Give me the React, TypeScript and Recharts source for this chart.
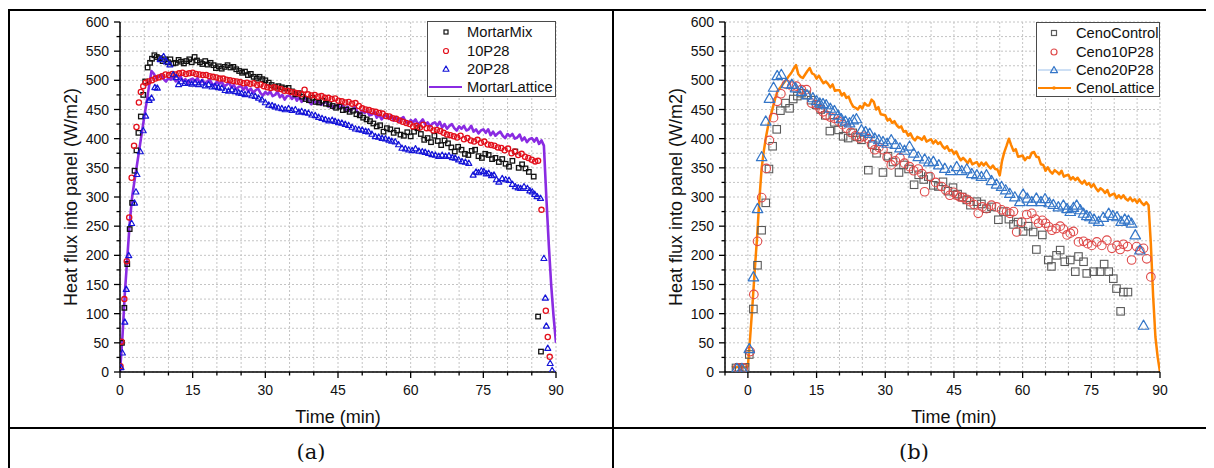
import React from "react";
import {
  ComposedChart,
  Line,
  Scatter,
  XAxis,
  YAxis,
  CartesianGrid,
  Legend,
} from "recharts";

type Pair = [number, number];
type Pt = { t: number; v: number };
type Shape = "square" | "circle" | "triangle";

// ---- axes ----
const Y_TICKS = [0, 25, 50, 75, 100, 125, 150, 175, 200, 225, 250, 275, 300, 325, 350, 375, 400, 425, 450, 475, 500, 525, 550, 575, 600];
const X_TICKS_A = [0, 5, 10, 15, 20, 25, 30, 35, 40, 45, 50, 55, 60, 65, 70, 75, 80, 85, 90];
const X_TICKS_B = [-5, 0, 5, 10, 15, 20, 25, 30, 35, 40, 45, 50, 55, 60, 65, 70, 75, 80, 85, 90];

// ---- panel (a) ----
const MORTAR_MIX: Pair[] = [
  [0.4, 50], [0.9, 110], [1.5, 185], [2.0, 245], [2.5, 290], [3.0, 345], [3.4, 380], [3.8, 410], [4.3, 438], [4.8, 475],
  [5.2, 498], [5.7, 522], [6.2, 530], [6.6, 537], [7.1, 543], [7.6, 540], [8.2, 538], [8.8, 533], [9.3, 536], [9.9, 531],
  [10.4, 536], [11.0, 529], [11.5, 530], [12.1, 535], [12.6, 532], [13.2, 529], [13.7, 533], [14.3, 536], [14.8, 531], [15.4, 540],
  [15.9, 534], [16.5, 531], [17.0, 528], [17.6, 533], [18.1, 527], [18.7, 530], [19.3, 526], [19.8, 521], [20.4, 524], [21.0, 520],
  [21.6, 523], [22.2, 526], [22.8, 522], [23.4, 523], [24.0, 519], [24.6, 516], [25.2, 513], [25.8, 515], [26.4, 509], [27.0, 511],
  [27.6, 506], [28.2, 503], [28.8, 506], [29.4, 502], [30.0, 500], [30.7, 496], [31.3, 492], [32.0, 489], [32.7, 490], [33.4, 488],
  [34.1, 486], [34.8, 487], [35.5, 481], [36.2, 476], [36.9, 478], [37.6, 472], [38.3, 468], [39.0, 466], [39.7, 470], [40.4, 463],
  [41.1, 462], [41.8, 465], [42.5, 460], [43.2, 459], [43.9, 456], [44.6, 453], [45.3, 455], [46.0, 449], [46.7, 450], [47.4, 446],
  [48.1, 448], [48.8, 442], [49.5, 440], [50.2, 436], [50.9, 433], [51.6, 430], [52.3, 426], [53.0, 421], [53.7, 423], [54.4, 412],
  [55.1, 418], [55.8, 416], [56.5, 410], [57.2, 414], [57.9, 407], [58.6, 405], [59.3, 411], [60.0, 404], [60.7, 412], [61.4, 418],
  [62.1, 408], [62.8, 398], [63.5, 401], [64.2, 394], [64.9, 405], [65.6, 396], [66.3, 389], [67.0, 397], [67.7, 392], [68.4, 385],
  [69.1, 378], [69.8, 386], [70.5, 381], [71.2, 374], [71.9, 372], [72.6, 379], [73.3, 381], [74.0, 370], [74.7, 367], [75.4, 374],
  [76.1, 372], [76.8, 365], [77.5, 367], [78.2, 360], [78.9, 365], [79.6, 357], [80.3, 352], [81.0, 362], [81.6, 378], [82.3, 350],
  [83.0, 356], [83.7, 349], [84.4, 343], [85.4, 335], [86.3, 95], [86.9, 35],
];

const P10_28: Pair[] = [
  [0.1, 10], [0.3, 52], [0.9, 125], [1.4, 190], [1.9, 265], [2.4, 333], [2.9, 388], [3.4, 420], [3.9, 462], [4.3, 480],
  [4.8, 490], [5.3, 496], [5.9, 498], [6.6, 500], [7.3, 503], [8.0, 505], [8.7, 507], [9.4, 510], [10.1, 509], [10.8, 511],
  [11.5, 510], [12.2, 512], [12.9, 513], [13.6, 511], [14.3, 512], [15.0, 513], [15.7, 511], [16.4, 510], [17.1, 509], [17.8, 509],
  [18.5, 507], [19.2, 506], [19.9, 505], [20.6, 503], [21.3, 503], [22.0, 501], [22.7, 500], [23.4, 499], [24.1, 498], [24.8, 497],
  [25.5, 495], [26.2, 496], [26.9, 494], [27.6, 495], [28.3, 492], [29.0, 493], [29.7, 490], [30.4, 488], [31.1, 487], [31.8, 488],
  [32.5, 486], [33.2, 485], [33.9, 482], [34.6, 482], [35.3, 480], [36.0, 479], [36.7, 478], [37.4, 476], [38.1, 484], [38.8, 476],
  [39.5, 474], [40.2, 475], [40.9, 472], [41.6, 473], [42.3, 470], [43.0, 470], [43.7, 468], [44.4, 469], [45.1, 465], [45.8, 464],
  [46.5, 462], [47.2, 463], [47.9, 460], [48.6, 461], [49.3, 456], [50.0, 452], [50.7, 450], [51.4, 449], [52.1, 447], [52.8, 446],
  [53.5, 444], [54.2, 443], [54.9, 439], [55.6, 438], [56.3, 435], [57.0, 434], [57.7, 431], [58.4, 429], [59.1, 427], [59.8, 425],
  [60.5, 421], [61.2, 422], [61.9, 419], [62.6, 424], [63.3, 418], [64.0, 418], [64.7, 414], [65.4, 415], [66.1, 413], [66.8, 410],
  [67.5, 407], [68.2, 406], [68.9, 404], [69.6, 402], [70.3, 405], [71.0, 399], [71.7, 401], [72.4, 397], [73.1, 395], [73.8, 398],
  [74.5, 393], [75.2, 395], [75.9, 390], [76.6, 389], [77.3, 388], [78.0, 385], [78.7, 384], [79.4, 380], [80.1, 383], [80.8, 375],
  [81.5, 378], [82.2, 372], [82.9, 374], [83.6, 369], [84.3, 367], [85.0, 364], [85.7, 361], [86.3, 362], [87.0, 278], [87.9, 105],
  [88.3, 60], [88.7, 26],
];

const P20_28: Pair[] = [
  [0.2, 8], [0.5, 33], [1.0, 86], [1.3, 142], [1.8, 200], [2.4, 255], [3.0, 290], [3.3, 309], [3.5, 339], [4.2, 378],
  [4.8, 414], [5.3, 439], [6.0, 466], [6.5, 470], [7.2, 488], [7.7, 487], [8.3, 536], [9.0, 541], [9.6, 532], [10.3, 527],
  [11.0, 510], [11.6, 505], [12.1, 493], [12.7, 498], [13.4, 495], [14.1, 496], [14.8, 494], [15.5, 496], [16.2, 493], [16.9, 496],
  [17.6, 491], [18.3, 493], [19.0, 489], [19.6, 490], [20.3, 488], [21.0, 487], [21.7, 483], [22.4, 482], [23.1, 484], [23.8, 481],
  [24.5, 479], [25.1, 478], [25.8, 476], [26.5, 477], [27.2, 474], [27.9, 473], [28.6, 470], [29.3, 467], [30.0, 462], [30.7, 458],
  [31.4, 457], [32.0, 455], [32.7, 453], [33.4, 452], [34.1, 450], [34.8, 452], [35.5, 449], [36.2, 450], [36.9, 446], [37.5, 447],
  [38.2, 445], [38.9, 444], [39.6, 441], [40.3, 440], [41.0, 437], [41.7, 435], [42.4, 433], [43.1, 431], [43.8, 432], [44.4, 430],
  [45.1, 428], [45.8, 427], [46.5, 425], [47.2, 423], [47.9, 420], [48.6, 417], [49.3, 416], [50.0, 415], [50.7, 413], [51.3, 412],
  [52.0, 408], [52.7, 404], [53.4, 403], [54.1, 401], [54.8, 400], [55.5, 398], [56.1, 396], [56.8, 395], [57.5, 390], [58.2, 384],
  [58.9, 383], [59.6, 381], [60.3, 380], [61.0, 383], [61.7, 379], [62.4, 378], [63.0, 377], [63.7, 375], [64.4, 373], [65.1, 372],
  [65.8, 370], [66.5, 372], [67.2, 370], [67.9, 371], [68.6, 368], [69.2, 367], [69.9, 364], [70.6, 361], [71.3, 360], [72.0, 358],
  [72.9, 338], [73.5, 343], [74.0, 342], [74.6, 345], [75.1, 344], [75.6, 340], [76.1, 341], [76.7, 337], [77.2, 338], [77.7, 330],
  [78.2, 326], [78.9, 332], [79.6, 330], [80.3, 329], [81.0, 322], [81.6, 318], [82.2, 316], [82.7, 315], [83.4, 318], [84.1, 315],
  [84.6, 311], [85.1, 309], [85.6, 305], [86.1, 301], [86.8, 298], [87.5, 195], [87.8, 127], [88.0, 79], [88.3, 41], [88.8, 15],
  [89.2, 3],
];

// MortarLattice, sampled every 0.5 min from t = 0
const MORTAR_LATTICE_START = 0;
const MORTAR_LATTICE: number[] = [
  0, 60, 135, 195, 255, 300, 328, 355, 382, 410, 437, 463, 490, 516,
  511, 503, 507, 510, 502, 498, 504, 501, 506, 498,
  501, 507, 498, 502, 495, 501, 503, 498, 504, 495,
  501, 494, 498, 502, 494, 491, 498, 494, 498, 490,
  492, 497, 488, 492, 484, 489, 490, 484, 490, 480,
  486, 479, 483, 486, 478, 474, 480, 476, 481, 473,
  475, 481, 471, 475, 467, 473, 474, 468, 474, 465,
  471, 463, 467, 470, 463, 459, 465, 461, 465, 458,
  460, 465, 455, 459, 452, 457, 458, 452, 458, 448,
  455, 447, 451, 454, 446, 442, 448, 444, 448, 440,
  441, 446, 436, 441, 433, 438, 440, 434, 440, 431,
  437, 429, 434, 437, 429, 426, 432, 428, 433, 425,
  428, 433, 424, 428, 421, 426, 428, 422, 429, 419,
  425, 417, 422, 425, 418, 414, 421, 417, 422, 414,
  416, 422, 412, 416, 409, 414, 416, 410, 416, 406,
  412, 405, 409, 412, 405, 401, 408, 404, 408, 400,
  402, 407, 397, 402, 394, 399, 401, 395, 401, 391,
  397, 388,
  300, 220, 150, 95, 50,
];

// ---- panel (b) ----
const CENO_CONTROL: Pair[] = [
  [-2.6, 7], [-1.9, 8], [-1.2, 7], [-0.6, 8], [0.3, 30], [1.2, 108], [2.1, 183], [3.0, 243], [3.9, 290], [4.6, 348],
  [5.4, 387], [6.3, 416], [7.1, 448], [8.2, 461], [9.1, 452], [9.9, 468], [10.8, 473], [11.7, 478], [12.8, 475], [13.8, 466],
  [14.9, 458], [15.9, 450], [16.9, 440], [17.9, 413], [18.9, 428], [19.8, 415], [20.8, 404], [21.9, 401], [22.9, 410], [23.8, 403],
  [24.8, 398], [26.3, 346], [27.2, 390], [28.1, 375], [29.5, 342], [30.6, 370], [31.7, 360], [33.0, 342], [34.0, 355], [35.1, 348],
  [36.3, 321], [37.3, 338], [38.4, 330], [39.4, 335], [40.5, 320], [41.6, 318], [42.6, 326], [43.7, 310], [44.8, 316], [45.8, 305],
  [46.8, 300], [47.8, 295], [48.6, 286], [50.0, 292], [51.0, 288], [52.1, 280], [53.2, 283], [54.7, 261], [55.8, 275], [57.0, 262],
  [58.0, 253], [59.0, 257], [60.1, 241], [61.2, 250], [62.3, 240], [63.0, 210], [64.3, 235], [65.6, 192], [66.3, 181], [67.4, 200],
  [68.2, 209], [69.2, 189], [70.4, 192], [71.5, 172], [72.2, 198], [73.3, 189], [74.0, 169], [75.5, 172], [76.9, 172], [77.8, 185],
  [78.8, 172], [79.8, 160], [80.5, 143], [81.4, 104], [82.0, 137], [83.0, 137],
];

const CENO_10P28: Pair[] = [
  [-2.2, 7], [-1.0, 7], [0.5, 35], [1.3, 133], [2.1, 224], [3.0, 299], [4.0, 349], [4.7, 397], [5.6, 436], [6.4, 464],
  [7.2, 477], [8.4, 493], [9.6, 490], [10.6, 490], [11.7, 484], [12.8, 484], [13.9, 461], [15.0, 458], [15.7, 452], [16.4, 446],
  [17.1, 440], [18.0, 437], [18.9, 435], [19.8, 430], [20.7, 424], [21.6, 418], [22.5, 411], [23.5, 405], [24.4, 401], [25.3, 404],
  [26.2, 400], [27.0, 390], [27.7, 381], [28.6, 385], [29.5, 381], [30.4, 368], [31.3, 355], [32.2, 362], [33.2, 367], [34.2, 358],
  [35.3, 352], [36.2, 345], [37.2, 348], [38.0, 340], [38.6, 309], [39.8, 335], [41.0, 325], [42.3, 318], [43.2, 312], [44.1, 303],
  [44.9, 308], [45.6, 303], [46.3, 300], [47.0, 299], [47.8, 296], [48.5, 292], [49.4, 287], [50.3, 272], [51.2, 283], [52.1, 280],
  [53.2, 286], [54.3, 283], [55.4, 278], [56.5, 275], [57.2, 272], [58.0, 275], [58.7, 240], [59.8, 257], [60.9, 270], [62.0, 272],
  [62.8, 262], [63.5, 255], [64.3, 260], [65.0, 255], [65.7, 249], [66.4, 243], [67.3, 246], [68.2, 250], [68.9, 245], [69.7, 235],
  [70.4, 238], [71.1, 241], [72.2, 223], [73.3, 224], [74.2, 220], [75.1, 217], [76.2, 223], [77.3, 217], [78.4, 226], [79.5, 212],
  [80.6, 217], [81.3, 210], [82.0, 219], [82.9, 215], [83.8, 192], [84.9, 215], [85.6, 208], [86.4, 212], [87.1, 194], [88.0, 163],
];

const CENO_20P28: Pair[] = [
  [-2.4, 6], [-1.3, 6], [0.3, 40], [1.2, 163], [2.1, 280], [3.0, 369], [3.9, 430], [4.7, 469], [5.6, 488], [6.4, 508],
  [7.3, 510], [8.4, 494], [9.6, 493], [10.4, 487], [11.7, 481], [12.9, 475], [14.2, 470], [15.0, 465], [15.7, 461], [16.4, 460],
  [17.1, 458], [18.0, 452], [18.9, 448], [19.7, 440], [20.4, 434], [21.3, 430], [22.2, 427], [23.0, 432], [23.7, 434], [24.8, 415],
  [25.7, 412], [26.6, 409], [27.7, 401], [28.6, 398], [29.5, 395], [30.4, 392], [31.3, 398], [32.2, 390], [33.2, 384], [34.2, 380],
  [35.3, 387], [36.2, 375], [37.2, 369], [38.6, 365], [39.5, 360], [40.5, 361], [41.7, 355], [43.0, 349], [44.3, 345], [45.6, 352],
  [46.7, 345], [47.8, 348], [48.9, 340], [50.0, 338], [51.0, 335], [52.1, 338], [53.2, 328], [54.3, 322], [55.4, 318], [56.3, 312],
  [57.2, 306], [58.3, 300], [59.4, 292], [60.1, 305], [61.0, 298], [62.0, 292], [63.0, 298], [64.0, 292], [64.9, 297], [65.8, 290],
  [66.7, 287], [67.8, 283], [68.9, 286], [69.7, 280], [70.4, 275], [71.1, 282], [71.8, 286], [72.6, 278], [73.3, 272], [74.0, 268],
  [74.7, 266], [75.6, 262], [76.6, 258], [77.6, 265], [78.8, 272], [79.7, 268], [80.6, 266], [81.5, 258], [82.3, 262], [83.1, 260],
  [83.8, 255], [84.6, 235], [85.6, 209], [86.4, 80],
];

// CenoLattice, sampled every 0.5 min from t = -3.5
const CENO_LATTICE_START = -3.5;
const CENO_LATTICE: number[] = [
  8, 9, 8, 9, 8, 9, 8, 10,
  60, 115, 175, 230, 295, 349, 380, 405, 425, 440,
  455, 470, 482, 487, 492, 497, 502, 508, 513, 520,
  526, 511, 506, 504, 510, 516, 521, 512,
  510, 503, 508, 501, 495, 498, 494, 488, 493, 482,
  483, 483, 474, 478, 470, 472, 462, 455, 453, 450,
  456, 452, 461, 457, 457, 467, 463, 450, 454, 442,
  441, 440, 431, 434, 427, 430, 423, 419, 421, 412,
  413, 405, 409, 401, 397, 403, 401, 398, 404, 395,
  397, 399, 392, 397, 391, 394, 387, 383, 387, 379,
  381, 374, 378, 369, 363, 367, 363, 358, 365, 356,
  358, 360, 353, 359, 354, 359, 353, 349, 354, 348,
  347, 337, 362, 377, 388, 400, 389, 379, 382, 369,
  370, 371, 363, 368, 367, 376, 377, 369, 368, 356,
  355, 345, 351, 344, 340, 346, 343, 339, 345, 335,
  337, 338, 330, 334, 329, 333, 327, 323, 328, 321,
  324, 317, 322, 315, 310, 315, 312, 307, 312, 302,
  304, 306, 298, 303, 298, 303, 297, 294, 299, 293,
  296, 290, 296, 290, 286, 291, 286,
  220, 130, 60, 25, 0,
];

const STEP = 0.5;
const fromPairs = (pairs: Pair[]): Pt[] => pairs.map(([t, v]) => ({ t, v }));
const sampled = (start: number, values: number[]): Pt[] =>
  values.map((v, i) => ({ t: Math.round((start + i * STEP) * 100) / 100, v }));

// ---- layout ----
const CHART_W = 600;
const CHART_H = 420;
const PLOT_LEFT = 110;
const PLOT_TOP = 10;
const X_AXIS_H = 52;
const BOTTOM_PAD = 8;
const FONT = "'Liberation Sans', Arial, sans-serif";

const drawShape = (shape: Shape, cx: number, cy: number, size: number, color: string, sw: number) => {
  const h = size / 2;
  if (shape === "square")
    return <rect x={cx - h} y={cy - h} width={size} height={size} fill="none" stroke={color} strokeWidth={sw} />;
  if (shape === "circle")
    return <circle cx={cx} cy={cy} r={h} fill="none" stroke={color} strokeWidth={sw} />;
  return (
    <polygon
      points={`${cx},${cy - h} ${cx + h},${cy + h * 0.75} ${cx - h},${cy + h * 0.75}`}
      fill="none"
      stroke={color}
      strokeWidth={sw}
      strokeLinejoin="round"
    />
  );
};

interface ScatterDef { name: string; data: Pt[]; shape: Shape; size: number; color: string; sw: number }
interface LineDef { name: string; data: Pt[]; color: string; width: number }
interface LegendItem { name: string; color: string; shape?: Shape; size?: number; line?: string; dot?: boolean }
interface PanelProps {
  xMin: number;
  xTicks: number[];
  right: number;
  scatters: ScatterDef[];
  lines: LineDef[];
  legend: LegendItem[];
  legendPos: { left: number; top: number; width: number; height: number; iconX: number };
}

const XTick = (p: any) => {
  const { x, y, payload } = p;
  const major = payload.value % 15 === 0;
  return (
    <g>
      <line x1={x} x2={x} y1={y} y2={y + (major ? 6 : 3.5)} stroke="#000" strokeWidth={1.3} />
      {major && (
        <text x={x} y={y + 23} textAnchor="middle" fontSize={14} fill="#111" fontFamily={FONT}>
          {payload.value}
        </text>
      )}
    </g>
  );
};

const YTick = (p: any) => {
  const { x, y, payload } = p;
  const major = payload.value % 50 === 0;
  return (
    <g>
      <line x1={x - (major ? 6 : 3.5)} x2={x} y1={y} y2={y} stroke="#000" strokeWidth={1.3} />
      {major && (
        <text x={x - 11} y={y} dy="0.36em" textAnchor="end" fontSize={14} fill="#111" fontFamily={FONT}>
          {payload.value}
        </text>
      )}
    </g>
  );
};

const LegendBox = ({ items, pos }: { items: LegendItem[]; pos: PanelProps["legendPos"] }) => (
  <div
    style={{
      width: pos.width,
      height: pos.height,
      boxSizing: "border-box",
      border: "1px solid #4a4a4a",
      background: "#fff",
      paddingTop: 1,
      fontFamily: FONT,
      fontSize: 14.7,
      color: "#111",
    }}
  >
    {items.map((it) => (
      <div key={it.name} style={{ display: "flex", alignItems: "center", height: 18.4 }}>
        <svg width={39} height={18} style={{ flex: "none" }}>
          {it.line && <line x1={1} x2={34} y1={9} y2={9} stroke={it.line} strokeWidth={it.shape ? 1 : 2} />}
          {it.shape && drawShape(it.shape, pos.iconX, 9, it.size ?? 5, it.color, 1.2)}
          {it.dot && <circle cx={pos.iconX} cy={9} r={1.8} fill={it.color} />}
        </svg>
        <span style={{ whiteSpace: "nowrap" }}>{it.name}</span>
      </div>
    ))}
  </div>
);

const Panel = ({ xMin, xTicks, right, scatters, lines, legend, legendPos }: PanelProps) => {
  const plotW = CHART_W - PLOT_LEFT - right;
  const plotH = CHART_H - PLOT_TOP - X_AXIS_H - BOTTOM_PAD;
  const timeLabelX = PLOT_LEFT + ((45 - xMin) / (90 - xMin)) * plotW;
  const yLabelY = PLOT_TOP + plotH / 2;
  return (
    <ComposedChart
      width={CHART_W}
      height={CHART_H}
      margin={{ top: PLOT_TOP, right, bottom: BOTTOM_PAD, left: 0 }}
      style={{ fontFamily: FONT }}
    >
      <CartesianGrid stroke="#c4c4c4" strokeDasharray="2 2" strokeWidth={1} />
      <XAxis
        type="number"
        dataKey="t"
        domain={[xMin, 90]}
        ticks={xTicks}
        interval={0}
        allowDataOverflow
        height={X_AXIS_H}
        tickSize={0}
        tickMargin={0}
        tickLine={false}
        axisLine={{ stroke: "#000", strokeWidth: 1.5 }}
        tick={(p: any) => <XTick {...p} />}
      />
      <YAxis
        type="number"
        dataKey="v"
        domain={[0, 600]}
        ticks={Y_TICKS}
        interval={0}
        allowDataOverflow
        width={PLOT_LEFT}
        tickSize={0}
        tickMargin={0}
        tickLine={false}
        axisLine={{ stroke: "#000", strokeWidth: 1.5 }}
        tick={(p: any) => <YTick {...p} />}
      />
      {scatters.map((s) => (
        <Scatter
          key={s.name}
          name={s.name}
          data={s.data}
          isAnimationActive={false}
          shape={(p: any) =>
            p.cx == null || p.cy == null ? <g /> : drawShape(s.shape, p.cx, p.cy, s.size, s.color, s.sw)
          }
        />
      ))}
      {lines.map((l) => (
        <Line
          key={l.name}
          name={l.name}
          data={l.data}
          dataKey="v"
          type="linear"
          stroke={l.color}
          strokeWidth={l.width}
          strokeLinejoin="round"
          dot={false}
          activeDot={false}
          isAnimationActive={false}
        />
      ))}
      <Legend
        layout="vertical"
        align="center"
        verticalAlign="middle"
        wrapperStyle={{ position: "absolute", left: legendPos.left, top: legendPos.top, width: legendPos.width }}
        content={() => <LegendBox items={legend} pos={legendPos} />}
      />
      <text
        x={61}
        y={yLabelY}
        transform={`rotate(-90, 61, ${yLabelY})`}
        textAnchor="middle"
        dominantBaseline="central"
        fontSize={18}
        fill="#111"
        fontFamily={FONT}
      >
        Heat flux into panel (W/m2)
      </text>
      <text x={timeLabelX} y={411} textAnchor="middle" fontSize={18} fill="#111" fontFamily={FONT}>
        Time (min)
      </text>
    </ComposedChart>
  );
};

const PANEL_A: PanelProps = {
  xMin: 0,
  xTicks: X_TICKS_A,
  right: 54,
  scatters: [
    { name: "MortarMix", data: fromPairs(MORTAR_MIX), shape: "square", size: 4.5, color: "#111", sw: 1.3 },
    { name: "10P28", data: fromPairs(P10_28), shape: "circle", size: 5.2, color: "#e3101c", sw: 1.3 },
    { name: "20P28", data: fromPairs(P20_28), shape: "triangle", size: 6, color: "#1515d8", sw: 1.2 },
  ],
  lines: [{ name: "MortarLattice", data: sampled(MORTAR_LATTICE_START, MORTAR_LATTICE), color: "#8a2be2", width: 2.6 }],
  legend: [
    { name: "MortarMix", color: "#111", shape: "square", size: 4 },
    { name: "10P28", color: "#e3101c", shape: "circle", size: 5 },
    { name: "20P28", color: "#1515d8", shape: "triangle", size: 6 },
    { name: "MortarLattice", color: "#8a2be2", line: "#8a2be2" },
  ],
  legendPos: { left: 417, top: 9, width: 129, height: 76, iconX: 18 },
};

const PANEL_B: PanelProps = {
  xMin: -5,
  xTicks: X_TICKS_B,
  right: 55,
  scatters: [
    { name: "CenoControl", data: fromPairs(CENO_CONTROL), shape: "square", size: 7.5, color: "#5a5a5a", sw: 1.1 },
    { name: "Ceno10P28", data: fromPairs(CENO_10P28), shape: "circle", size: 8.6, color: "#df4a4a", sw: 1.1 },
    { name: "Ceno20P28", data: fromPairs(CENO_20P28), shape: "triangle", size: 10.5, color: "#3476c8", sw: 1.2 },
  ],
  lines: [{ name: "CenoLattice", data: sampled(CENO_LATTICE_START, CENO_LATTICE), color: "#ff8400", width: 2.5 }],
  legend: [
    { name: "CenoControl", color: "#5a5a5a", shape: "square", size: 5 },
    { name: "Ceno10P28", color: "#df4a4a", shape: "circle", size: 6 },
    { name: "Ceno20P28", color: "#3476c8", shape: "triangle", size: 7, line: "#9cc0ea" },
    { name: "CenoLattice", color: "#ff8400", line: "#ff8400", dot: true },
  ],
  legendPos: { left: 421, top: 10, width: 124, height: 75, iconX: 17 },
};

const rule = (left: number, top: number, width: number, height: number): React.CSSProperties => ({
  position: "absolute",
  left,
  top,
  width,
  height,
  background: "#000",
});

const caption: React.CSSProperties = {
  position: "absolute",
  top: 424,
  height: 40,
  lineHeight: "40px",
  textAlign: "center",
  fontFamily: "'DejaVu Serif', serif",
  fontSize: 21,
  color: "#111",
};

export default function App() {
  return (
    <div style={{ position: "relative", width: 1206, height: 460, background: "#fff" }}>
      <div style={rule(0, 1, 1206, 2)} />
      <div style={rule(0, 1, 2, 459)} />
      <div style={rule(604, 1, 2, 459)} />
      <div style={rule(0, 419, 1206, 2)} />
      <div style={{ position: "absolute", left: 2, top: 4 }}>
        <Panel {...PANEL_A} />
      </div>
      <div style={{ position: "absolute", left: 607, top: 4 }}>
        <Panel {...PANEL_B} />
      </div>
      <div style={{ ...caption, left: 2, width: 602 }}>(a)</div>
      <div style={{ ...caption, left: 606, width: 600 }}>(b)</div>
    </div>
  );
}
